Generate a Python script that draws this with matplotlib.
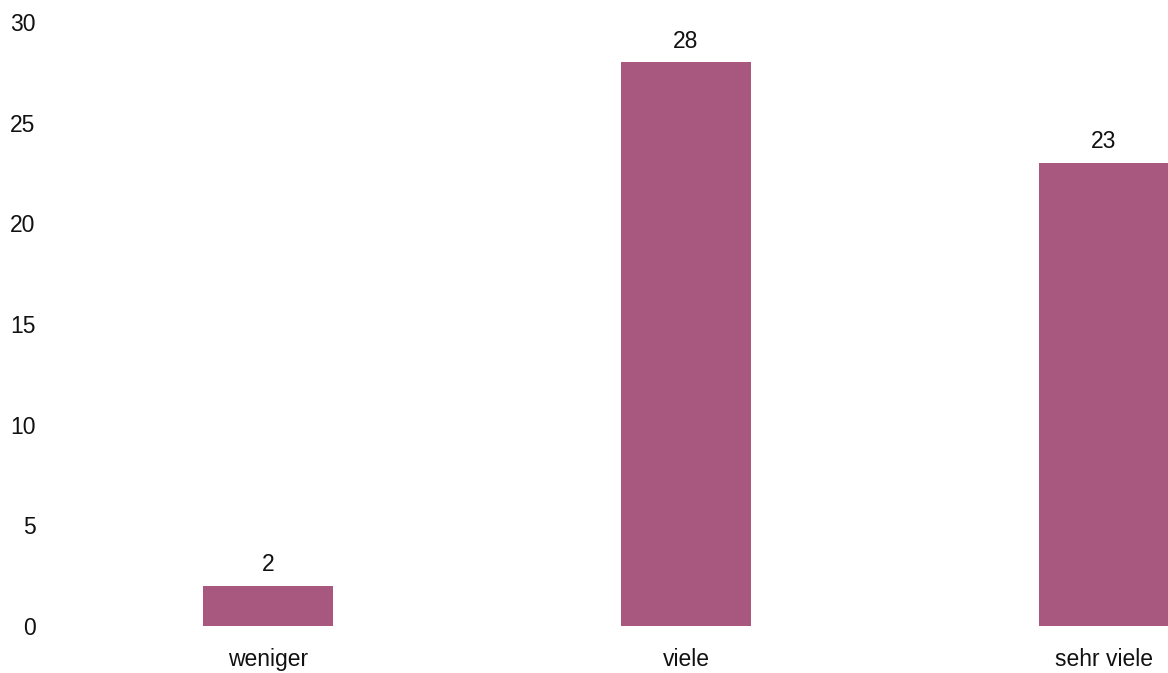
import matplotlib
matplotlib.use("Agg")
import matplotlib.pyplot as plt

# Data
categories = ["weniger", "viele", "sehr viele"]
values = [2, 28, 23]

plt.rcParams['font.family'] = ['Liberation Sans', 'DejaVu Sans']

fig = plt.figure(figsize=(11.68, 6.73), dpi=100)
ax = fig.add_axes([59 / 1168, 47 / 673, 1 - 59 / 1168, 604 / 673])

x = list(range(len(categories)))
bars = ax.bar(x, values, width=0.311, color='#a8577e')

for xi, v in zip(x, values):
    ax.annotate(str(v), (xi, v), xytext=(0, 7), textcoords='offset points',
                ha='center', va='bottom', fontsize=16.5, color='#111111')

ax.set_xlim(-0.5, (1168 - 268) / 418)
ax.set_ylim(0, 30)
ax.set_yticks(range(0, 31, 5))
ax.set_xticks(x)
ax.set_xticklabels(categories)
ax.tick_params(axis='both', length=0, labelsize=16.5, labelcolor='#111111')
ax.tick_params(axis='y', pad=17)
ax.tick_params(axis='x', pad=16)
for s in ax.spines.values():
    s.set_visible(False)

fig.savefig("out.png", dpi=100)
plt.close()
